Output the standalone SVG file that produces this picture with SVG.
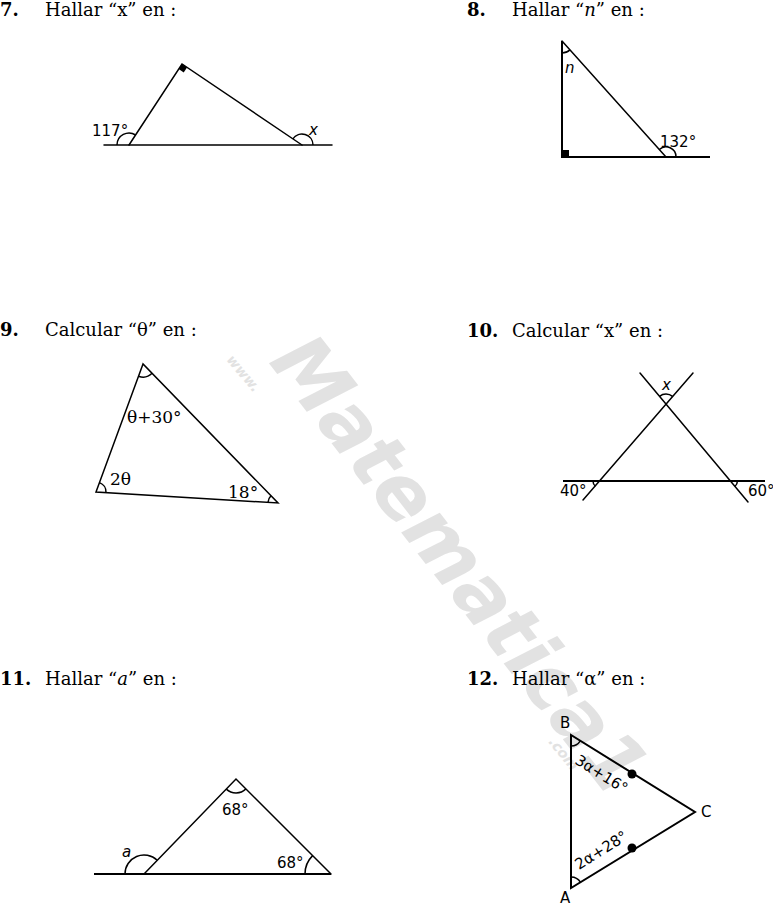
<svg xmlns="http://www.w3.org/2000/svg" width="773" height="907" viewBox="0 0 773 907">
<style>
.hd{font-family:"DejaVu Serif","Liberation Serif",serif;font-size:18px;fill:#000}
.num{font-weight:bold}
.lb{font-family:"DejaVu Sans","Liberation Sans",sans-serif;font-size:15px;fill:#000}
.sl{font-family:"DejaVu Serif","Liberation Serif",serif;font-size:17px;fill:#000}
.ln{stroke:#000;stroke-width:1.5;fill:none;stroke-linecap:round}
.th{stroke:#000;stroke-width:2;fill:none}
.arc{stroke:#000;stroke-width:1.5;fill:none}
.wm{font-family:"DejaVu Sans","Liberation Sans",sans-serif;font-weight:bold;font-style:italic;fill:#e2e2e2}
</style>
<rect width="773" height="907" fill="#fff"/>
<g id="watermark">
<text class="wm" font-size="14" transform="translate(226,360) rotate(50)">www.</text>
<text class="wm" font-size="78" transform="translate(268,362) rotate(52)" textLength="555" lengthAdjust="spacingAndGlyphs">Matematica1</text>
<text class="wm" font-size="14" transform="translate(548,742) rotate(51)">.com</text>
</g>
<g id="p7">
<text class="hd num" x="0" y="16">7.</text>
<text class="hd" x="45" y="16">Hallar “x” en :</text>
<line class="ln" x1="104" y1="145" x2="332" y2="145"/>
<polyline class="ln" points="129,145 182,64 302,145"/>
<polygon points="182,64 178.7,69 183.7,72.4 187,67.4" fill="#000"/>
<path class="arc" d="M117,145 A12,12 0 0 1 135.6,135"/>
<path class="arc" d="M292.9,138.9 A11,11 0 0 1 313,145"/>
<text class="lb" x="92" y="136">117°</text>
<text class="lb" x="309" y="135" font-style="italic">x</text>
</g>
<g id="p8">
<text class="hd num" x="467" y="16">8.</text>
<text class="hd" x="512" y="16">Hallar “<tspan font-style="italic">n</tspan>” en :</text>
<line class="th" x1="562" y1="41" x2="562" y2="157"/>
<line class="th" x1="561" y1="157" x2="710" y2="157"/>
<line class="ln" x1="562" y1="41" x2="666" y2="157"/>
<rect x="562" y="150" width="7" height="7" fill="#000"/>
<path class="arc" d="M562,53 A12,12 0 0 0 570,49.9"/>
<path class="arc" d="M659.3,149.5 A10,10 0 0 1 676,157"/>
<text class="lb" x="565" y="73" font-style="italic">n</text>
<text class="lb" x="660" y="147">132°</text>
</g>
<g id="p9">
<text class="hd num" x="0" y="336">9.</text>
<text class="hd" x="45" y="336">Calcular “θ” en :</text>
<polygon class="ln" points="143,364 96,492 278,503"/>
<path class="arc" d="M138.5,376.2 A13,13 0 0 0 152.1,373.3"/>
<path class="arc" d="M99.4,482.6 A10,10 0 0 1 106,492.6"/>
<path class="arc" d="M271,495.8 A10,10 0 0 0 268,502.4"/>
<text class="sl" x="127" y="423">θ+30°</text>
<text class="sl" x="110" y="485">2θ</text>
<text class="sl" x="228" y="498">18°</text>
</g>
<g id="p10">
<text class="hd num" x="467" y="337">10.</text>
<text class="hd" x="512" y="337">Calcular “x” en :</text>
<line class="th" x1="563" y1="481" x2="765" y2="481"/>
<line class="ln" x1="583" y1="500" x2="693" y2="373"/>
<line class="ln" x1="640" y1="373" x2="748" y2="502"/>
<path class="arc" d="M659.6,396.3 A10,10 0 0 1 672.5,396.4"/>
<path class="arc" d="M593,481 A7,7 0 0 0 595.4,486.3"/>
<path class="arc" d="M737.4,481 A7,7 0 0 1 734.9,486.4"/>
<text class="lb" x="662" y="390" font-style="italic">x</text>
<text class="lb" x="560" y="496">40°</text>
<text class="lb" x="748" y="496">60°</text>
</g>
<g id="p11">
<text class="hd num" x="0" y="685">11.</text>
<text class="hd" x="45" y="685">Hallar “<tspan font-style="italic">a</tspan>” en :</text>
<line class="th" x1="94" y1="874" x2="331" y2="874"/>
<polyline class="ln" points="144,874 236,779 331,874"/>
<path class="arc" d="M226.3,789.1 A14,14 0 0 0 245.9,788.9"/>
<path class="arc" d="M125,874 A19,19 0 0 1 157.2,860.3"/>
<path class="arc" d="M305,874 A26,26 0 0 1 312.6,855.6"/>
<text class="lb" x="222" y="815">68°</text>
<text class="lb" x="122" y="857" font-style="italic">a</text>
<text class="lb" x="277" y="868">68°</text>
</g>
<g id="p12">
<text class="hd num" x="467" y="685">12.</text>
<text class="hd" x="512" y="685">Hallar “α” en :</text>
<polygon class="th" points="571,735 571,888 695,812"/>
<circle cx="632" cy="774" r="4.5" fill="#000"/>
<circle cx="632" cy="848" r="4.5" fill="#000"/>
<path class="arc" d="M571,746 A11,11 0 0 0 580.3,740.8"/>
<path class="arc" d="M571,877 A11,11 0 0 1 580.4,882.2"/>
<text class="lb" x="560" y="728">B</text>
<text class="lb" x="560" y="903">A</text>
<text class="lb" x="701" y="817">C</text>
<text class="lb" transform="translate(574,763) rotate(32)">3α+16°</text>
<text class="lb" transform="translate(579,870) rotate(-32)">2α+28°</text>
</g>
</svg>
